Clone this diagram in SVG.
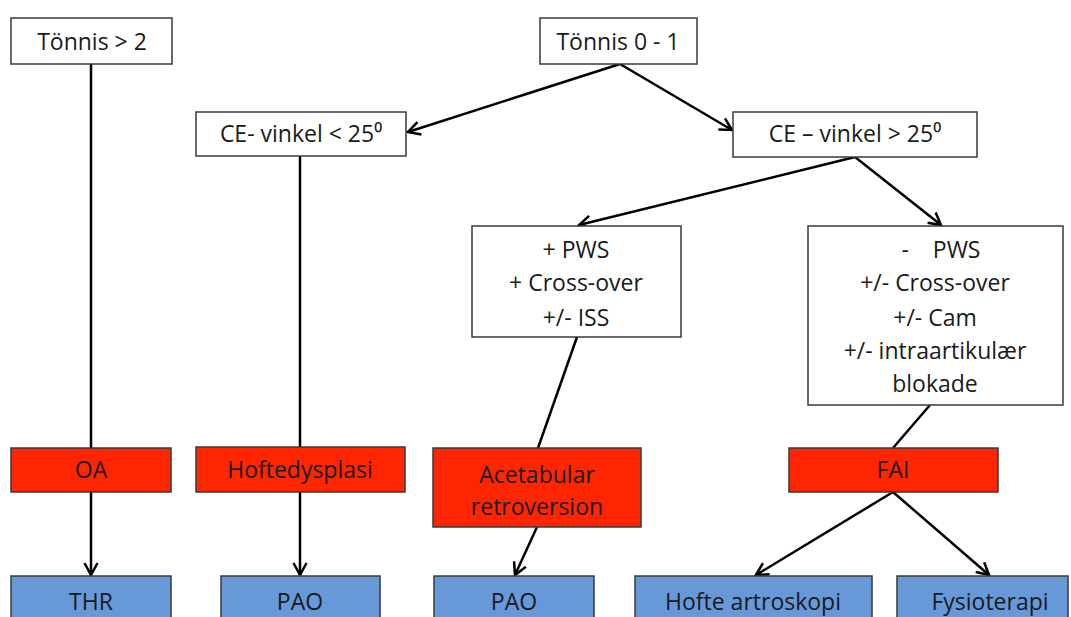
<svg xmlns="http://www.w3.org/2000/svg" width="1071" height="617" viewBox="0 0 1071 617">
<defs>
<style>
.box{fill:#ffffff;stroke:#3a3a3a;stroke-width:1.5}
.red{fill:#ff2500;stroke:#3a3a3a;stroke-width:1.5}
.blue{fill:#6799d9;stroke:#3a3a3a;stroke-width:1.5}
text{font-family:"Open Sans","Liberation Sans",sans-serif;font-size:23px;fill:#1a1a1a;text-anchor:middle}
.ln{stroke:#000;stroke-width:2.5;fill:none}
.ar{stroke:#000;stroke-width:2.5;fill:none;marker-end:url(#ah)}
</style>
<marker id="ah" markerUnits="userSpaceOnUse" markerWidth="18" markerHeight="18" viewBox="0 0 18 18" refX="16" refY="9" orient="auto">
<path d="M4,2.5 L16,9 L4,15.5" fill="none" stroke="#000" stroke-width="2.5"/>
</marker>
</defs>
<rect width="1071" height="617" fill="#ffffff"/>
<g id="connectors">
<line class="ln" x1="91" y1="64" x2="91" y2="448"/>
<line class="ln" x1="300" y1="156" x2="300" y2="447"/>
<line class="ar" x1="620" y1="64" x2="408" y2="132"/>
<line class="ar" x1="620" y1="64" x2="732" y2="130"/>
<line class="ar" x1="855" y1="157" x2="579" y2="225"/>
<line class="ar" x1="855" y1="157" x2="941" y2="225"/>
<line class="ln" x1="577" y1="337" x2="538" y2="448"/>
<line class="ln" x1="930" y1="405" x2="893" y2="448"/>
<line class="ar" x1="91" y1="492" x2="91" y2="575"/>
<line class="ar" x1="300" y1="492" x2="300" y2="575"/>
<line class="ar" x1="537" y1="527" x2="515" y2="575"/>
<line class="ar" x1="893" y1="492" x2="756" y2="575"/>
<line class="ar" x1="893" y1="492" x2="989" y2="575"/>
</g>
<g id="tonnis_gt2"><rect class="box" x="11" y="18" width="161" height="46"/><text x="92" y="50">Tönnis &gt; 2</text></g>
<g id="tonnis_01"><rect class="box" x="540" y="18" width="157" height="46"/><text x="618" y="50">Tönnis 0 - 1</text></g>
<g id="ce_lt25"><rect class="box" x="196" y="112" width="210" height="44"/><text x="301" y="142">CE- vinkel &lt; 25⁰</text></g>
<g id="ce_gt25"><rect class="box" x="733" y="112" width="244" height="45"/><text x="855" y="142">CE – vinkel &gt; 25⁰</text></g>
<g id="pws_pos"><rect class="box" x="472" y="226" width="209" height="111"/>
<text x="576" y="258">+ PWS</text><text x="576" y="291">+ Cross-over</text><text x="576" y="326">+/- ISS</text></g>
<g id="pws_neg"><rect class="box" x="808" y="226" width="255" height="179"/>
<text x="941" y="258" xml:space="preserve">-    PWS</text><text x="935" y="291">+/- Cross-over</text><text x="935" y="326">+/- Cam</text><text x="935" y="359">+/- intraartikulær</text><text x="935" y="392">blokade</text></g>
<g id="oa"><rect class="red" x="11" y="448" width="160" height="44"/><text x="91" y="478">OA</text></g>
<g id="hoftedysplasi"><rect class="red" x="196" y="447" width="209" height="45"/><text x="300" y="478">Hoftedysplasi</text></g>
<g id="acetabular"><rect class="red" x="433" y="448" width="208" height="79"/><text x="537" y="483">Acetabular</text><text x="537" y="515">retroversion</text></g>
<g id="fai"><rect class="red" x="789" y="448" width="209" height="44"/><text x="893" y="478">FAI</text></g>
<g id="thr"><rect class="blue" x="11" y="576" width="160" height="60"/><text x="91" y="610">THR</text></g>
<g id="pao1"><rect class="blue" x="221" y="576" width="159" height="60"/><text x="300" y="610">PAO</text></g>
<g id="pao2"><rect class="blue" x="434" y="576" width="160" height="60"/><text x="514" y="610">PAO</text></g>
<g id="artroskopi"><rect class="blue" x="635" y="576" width="237" height="60"/><text x="753" y="610">Hofte artroskopi</text></g>
<g id="fysioterapi"><rect class="blue" x="897" y="576" width="171" height="60"/><text x="990" y="610">Fysioterapi</text></g>
</svg>
